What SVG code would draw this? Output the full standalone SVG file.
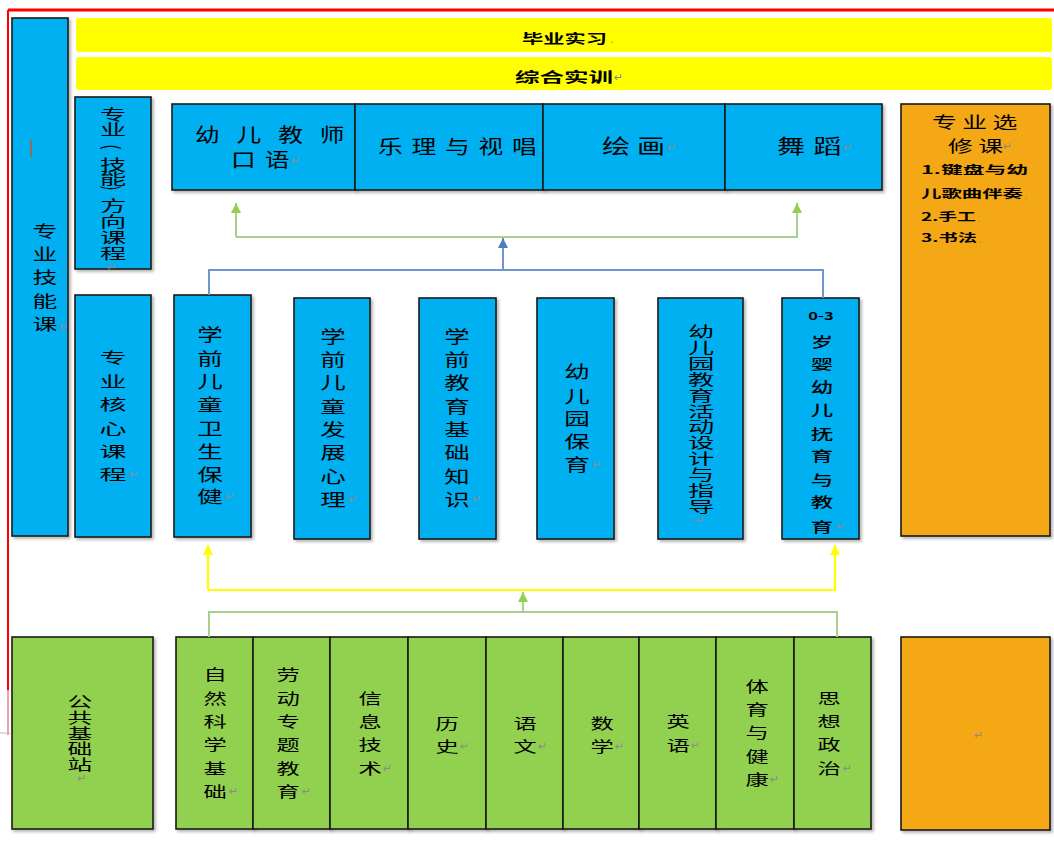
<svg xmlns="http://www.w3.org/2000/svg" width="1054" height="846" viewBox="0 0 1054 846">
<defs>
<filter id="sh" x="-10%" y="-10%" width="130%" height="130%"><feDropShadow dx="2" dy="2" stdDeviation="1.5" flood-color="#000" flood-opacity="0.3"/></filter>
<marker id="ag" viewBox="0 0 10 10" refX="10" refY="5" markerUnits="userSpaceOnUse" markerWidth="10" markerHeight="14" orient="auto"><path d="M0,0 L10,5 L0,10 z" fill="#92D050"/></marker>
<marker id="ab" viewBox="0 0 10 10" refX="10" refY="5" markerUnits="userSpaceOnUse" markerWidth="10" markerHeight="14" orient="auto"><path d="M0,0 L10,5 L0,10 z" fill="#4F7EC0"/></marker>
<marker id="ay" viewBox="0 0 10 10" refX="10" refY="5" markerUnits="userSpaceOnUse" markerWidth="10" markerHeight="14" orient="auto"><path d="M0,0 L10,5 L0,10 z" fill="#FFFF00"/></marker>
</defs>
<style>
.b{fill:#00B0F0;stroke:#1a1a1a;stroke-width:1.6;filter:url(#sh)}
.g{fill:#92D050;stroke:#1a1a1a;stroke-width:1.6;filter:url(#sh)}
.o{fill:#F5A815;stroke:#1a1a1a;stroke-width:1.6;filter:url(#sh)}
.y{fill:#FFFF00}
.t{font-family:"Noto Sans CJK SC","Noto Sans",sans-serif;fill:#000;dominant-baseline:central}
.v{text-anchor:middle}
.bd{font-weight:700}
.pm{font-family:"DejaVu Sans",sans-serif;fill:#8c8c8c;font-size:11px;dominant-baseline:central}
.cg{fill:none;stroke:#A9D18E;stroke-width:2}
.cb{fill:none;stroke:#7096CF;stroke-width:2}
.cy{fill:none;stroke:#FFFF00;stroke-width:2.2}
</style>
<rect width="1054" height="846" fill="#fff"/>
<g id="frame">
<path d="M8,10 H1054" stroke="#FF0000" stroke-width="3"/>
<path d="M8,10 V690" stroke="#FF0000" stroke-width="2"/>
<path d="M8,690 V735" stroke="#F4A0A0" stroke-width="2"/>
<path d="M0,733 H10" stroke="#bbb" stroke-width="1"/>
</g>

<g id="n-zyjnk">
<rect class="b" x="12" y="18" width="56" height="518"/>
<path d="M31,140 V157" stroke="#C0562A" stroke-width="1.5"/>
<text class="t v" font-size="16" transform="translate(45,0) scale(1.55,1)"><tspan x="0" y="230">专</tspan><tspan x="0" y="253">业</tspan><tspan x="0" y="276">技</tspan><tspan x="0" y="300">能</tspan><tspan x="0" y="323">课</tspan></text>
<text class="pm" x="59" y="326">↵</text>
</g>

<g id="n-bysx">
<rect class="y" x="76" y="18" width="976" height="34" rx="3"/>
<text class="t bd" font-size="13" x="522" y="37" textLength="85" lengthAdjust="spacingAndGlyphs">毕业实习</text>
<text class="pm" x="610" y="39" font-size="8">.</text>
</g>
<g id="n-zhsx">
<rect class="y" x="76" y="57" width="976" height="33" rx="3"/>
<text class="t bd" font-size="14" x="515" y="76" textLength="98" lengthAdjust="spacingAndGlyphs">综合实训</text>
<text class="pm" x="614" y="77">↵</text>
</g>

<g id="n-zyfx">
<rect class="b" x="75" y="97" width="76" height="172"/>
<text class="t v" font-size="15" transform="translate(113,0) scale(1.75,1)"><tspan x="0" y="113">专</tspan><tspan x="0" y="128">业</tspan><tspan x="0" y="163">技</tspan><tspan x="0" y="177">能</tspan><tspan x="0" y="204">方</tspan><tspan x="0" y="220">向</tspan><tspan x="0" y="236">课</tspan><tspan x="0" y="252">程</tspan></text>
<text class="t v" font-size="15" transform="translate(113,147) rotate(90) scale(1,1.4)" x="0" y="0">(</text>
<text class="t v" font-size="15" transform="translate(113,188) rotate(90) scale(1,1.4)" x="0" y="0">)</text>
<text class="pm" x="107" y="267">↵</text>
</g>

<g id="n-yejs">
<rect class="b" x="172" y="104" width="183" height="86"/>
<text class="t" font-size="19" transform="translate(195,0) scale(1.3,1)" x="0" y="133" textLength="115" lengthAdjust="spacing">幼儿教师</text>
<text class="t" font-size="19" transform="translate(231,0) scale(1.3,1)" x="0" y="158" textLength="45" lengthAdjust="spacing">口语</text>
<text class="pm" x="291" y="160">↵</text>
</g>
<g id="n-ll">
<rect class="b" x="355" y="104" width="188" height="86"/>
<text class="t" font-size="19" transform="translate(378,0) scale(1.3,1)" x="0" y="145" textLength="122" lengthAdjust="spacing">乐理与视唱</text>
</g>
<g id="n-hh">
<rect class="b" x="543" y="104" width="182" height="86"/>
<text class="t" font-size="20" transform="translate(602,0) scale(1.4,1)" x="0" y="145" textLength="45" lengthAdjust="spacing">绘画</text>
<text class="pm" x="667" y="147">↵</text>
</g>
<g id="n-wd">
<rect class="b" x="725" y="104" width="157" height="86"/>
<text class="t" font-size="20" transform="translate(777,0) scale(1.4,1)" x="0" y="145" textLength="46" lengthAdjust="spacing">舞蹈</text>
<text class="pm" x="843" y="147">↵</text>
</g>

<g id="n-zyxx">
<rect class="o" x="901" y="104" width="149" height="432"/>
<text class="t" font-size="16" transform="translate(932,0) scale(1.55,1)" x="0" y="121" textLength="55" lengthAdjust="spacing">专业选</text>
<text class="t" font-size="16" transform="translate(948,0) scale(1.55,1)" x="0" y="145" textLength="35.5" lengthAdjust="spacing">修课</text>
<text class="pm" x="1003" y="146">↵</text>
<text class="t bd" font-size="11" x="921" y="169" textLength="107" lengthAdjust="spacingAndGlyphs">1.键盘与幼</text>
<text class="t bd" font-size="11" x="921" y="193" textLength="102" lengthAdjust="spacingAndGlyphs">儿歌曲伴奏</text>
<text class="pm" x="1024" y="195" font-size="7">.</text>
<text class="t bd" font-size="11" x="921" y="216" textLength="55" lengthAdjust="spacingAndGlyphs">2.手工</text>
<text class="pm" x="977" y="218" font-size="7">.</text>
<text class="t bd" font-size="11" x="921" y="237" textLength="56" lengthAdjust="spacingAndGlyphs">3.书法</text>
<text class="pm" x="978" y="239" font-size="7">.</text>
</g>

<g id="n-zyhx">
<rect class="b" x="75" y="295" width="76" height="242"/>
<text class="t v" font-size="15" transform="translate(113,0) scale(1.8,1)"><tspan x="0" y="356">专</tspan><tspan x="0" y="380">业</tspan><tspan x="0" y="403">核</tspan><tspan x="0" y="427">心</tspan><tspan x="0" y="450">课</tspan><tspan x="0" y="473">程</tspan></text>
<text class="pm" x="129" y="474">↵</text>
</g>
<g id="n-wsbj">
<rect class="b" x="174" y="295" width="77" height="242"/>
<text class="t v" font-size="17" transform="translate(210,0) scale(1.5,1)"><tspan x="0" y="333">学</tspan><tspan x="0" y="357">前</tspan><tspan x="0" y="380">儿</tspan><tspan x="0" y="403">童</tspan><tspan x="0" y="427">卫</tspan><tspan x="0" y="450">生</tspan><tspan x="0" y="473">保</tspan><tspan x="0" y="495">健</tspan></text>
<text class="pm" x="225" y="496">↵</text>
</g>
<g id="n-fzxl">
<rect class="b" x="294" y="298" width="76" height="241"/>
<text class="t v" font-size="17" transform="translate(333,0) scale(1.5,1)"><tspan x="0" y="335">学</tspan><tspan x="0" y="358">前</tspan><tspan x="0" y="381">儿</tspan><tspan x="0" y="405">童</tspan><tspan x="0" y="428">发</tspan><tspan x="0" y="451">展</tspan><tspan x="0" y="475">心</tspan><tspan x="0" y="498">理</tspan></text>
<text class="pm" x="348" y="499">↵</text>
</g>
<g id="n-jyjc">
<rect class="b" x="419" y="298" width="77" height="241"/>
<text class="t v" font-size="17" transform="translate(457,0) scale(1.5,1)"><tspan x="0" y="335">学</tspan><tspan x="0" y="358">前</tspan><tspan x="0" y="381">教</tspan><tspan x="0" y="405">育</tspan><tspan x="0" y="428">基</tspan><tspan x="0" y="451">础</tspan><tspan x="0" y="475">知</tspan><tspan x="0" y="498">识</tspan></text>
<text class="pm" x="472" y="499">↵</text>
</g>
<g id="n-yeby">
<rect class="b" x="537" y="298" width="77" height="241"/>
<text class="t v" font-size="17" transform="translate(577,0) scale(1.5,1)"><tspan x="0" y="370">幼</tspan><tspan x="0" y="395">儿</tspan><tspan x="0" y="417">园</tspan><tspan x="0" y="440">保</tspan><tspan x="0" y="463">育</tspan></text>
<text class="pm" x="592" y="464">↵</text>
</g>
<g id="n-hdsj">
<rect class="b" x="658" y="298" width="85" height="241"/>
<text class="t v" font-size="15" transform="translate(701,0) scale(1.75,1)"><tspan x="0" y="330">幼</tspan><tspan x="0" y="346">儿</tspan><tspan x="0" y="362">园</tspan><tspan x="0" y="378">教</tspan><tspan x="0" y="394">育</tspan><tspan x="0" y="410">活</tspan><tspan x="0" y="425">动</tspan><tspan x="0" y="441">设</tspan><tspan x="0" y="457">计</tspan><tspan x="0" y="473">与</tspan><tspan x="0" y="489">指</tspan><tspan x="0" y="505">导</tspan></text>
<text class="pm v" x="700" y="520">↵</text>
</g>
<g id="n-0-3">
<rect class="b" x="782" y="298" width="77" height="241"/>
<text class="t v bd" font-size="11" transform="translate(821,0) scale(1.5,1)" x="0" y="315">0-3</text>
<text class="t v" font-size="14" font-weight="500" transform="translate(822,0) scale(1.6,1)"><tspan x="0" y="340">岁</tspan><tspan x="0" y="362">婴</tspan><tspan x="0" y="385">幼</tspan><tspan x="0" y="408">儿</tspan><tspan x="0" y="432">抚</tspan><tspan x="0" y="454">育</tspan><tspan x="0" y="478">与</tspan><tspan x="0" y="500">教</tspan><tspan x="0" y="525">育</tspan></text>
<text class="pm" x="836" y="526">↵</text>
</g>

<g id="n-ggjc">
<rect class="g" x="12" y="637" width="141" height="192"/>
<text class="t v" font-size="15" transform="translate(80,0) scale(1.65,1)"><tspan x="0" y="700">公</tspan><tspan x="0" y="716">共</tspan><tspan x="0" y="732">基</tspan><tspan x="0" y="747">础</tspan><tspan x="0" y="763">站</tspan></text>
<text class="pm v" x="82" y="778">↵</text>
</g>
<g id="n-zrkx">
<rect class="g" x="176" y="637" width="77" height="192"/>
<text class="t v" font-size="15" transform="translate(215,0) scale(1.55,1)"><tspan x="0" y="673">自</tspan><tspan x="0" y="697">然</tspan><tspan x="0" y="720">科</tspan><tspan x="0" y="743">学</tspan><tspan x="0" y="767">基</tspan><tspan x="0" y="790">础</tspan></text>
<text class="pm" x="229" y="791">↵</text>
</g>
<g id="n-ldzt">
<rect class="g" x="253" y="637" width="77" height="192"/>
<text class="t v" font-size="15" transform="translate(288,0) scale(1.55,1)"><tspan x="0" y="673">劳</tspan><tspan x="0" y="697">动</tspan><tspan x="0" y="720">专</tspan><tspan x="0" y="743">题</tspan><tspan x="0" y="767">教</tspan><tspan x="0" y="790">育</tspan></text>
<text class="pm" x="302" y="791">↵</text>
</g>
<g id="n-xxjs">
<rect class="g" x="330" y="637" width="78" height="192"/>
<text class="t v" font-size="15" transform="translate(370,0) scale(1.55,1)"><tspan x="0" y="697">信</tspan><tspan x="0" y="720">息</tspan><tspan x="0" y="743">技</tspan><tspan x="0" y="767">术</tspan></text>
<text class="pm" x="383" y="768">↵</text>
</g>
<g id="n-ls">
<rect class="g" x="408" y="637" width="78" height="192"/>
<text class="t v" font-size="15" transform="translate(447,0) scale(1.55,1)"><tspan x="0" y="722">历</tspan><tspan x="0" y="745">史</tspan></text>
<text class="pm" x="460" y="746">↵</text>
</g>
<g id="n-yw">
<rect class="g" x="486" y="637" width="77" height="192"/>
<text class="t v" font-size="15" transform="translate(525,0) scale(1.55,1)"><tspan x="0" y="722">语</tspan><tspan x="0" y="745">文</tspan></text>
<text class="pm" x="538" y="746">↵</text>
</g>
<g id="n-sx">
<rect class="g" x="563" y="637" width="76" height="192"/>
<text class="t v" font-size="15" transform="translate(602,0) scale(1.55,1)"><tspan x="0" y="722">数</tspan><tspan x="0" y="745">学</tspan></text>
<text class="pm" x="615" y="746">↵</text>
</g>
<g id="n-yy">
<rect class="g" x="639" y="637" width="77" height="192"/>
<text class="t v" font-size="15" transform="translate(678,0) scale(1.55,1)"><tspan x="0" y="720">英</tspan><tspan x="0" y="744">语</tspan></text>
<text class="pm" x="691" y="745">↵</text>
</g>
<g id="n-tyjk">
<rect class="g" x="716" y="637" width="78" height="192"/>
<text class="t v" font-size="15" transform="translate(757,0) scale(1.55,1)"><tspan x="0" y="685">体</tspan><tspan x="0" y="708">育</tspan><tspan x="0" y="731">与</tspan><tspan x="0" y="755">健</tspan><tspan x="0" y="778">康</tspan></text>
<text class="pm" x="770" y="779">↵</text>
</g>
<g id="n-sxzz">
<rect class="g" x="794" y="637" width="77" height="192"/>
<text class="t v" font-size="15" transform="translate(829,0) scale(1.55,1)"><tspan x="0" y="697">思</tspan><tspan x="0" y="720">想</tspan><tspan x="0" y="743">政</tspan><tspan x="0" y="767">治</tspan></text>
<text class="pm" x="843" y="768">↵</text>
</g>
<g id="n-orange2">
<rect class="o" x="901" y="637" width="149" height="193"/>
<text class="pm" x="974" y="735">↵</text>
</g>

<g id="connectors">
<path class="cg" d="M236,237 V203" marker-end="url(#ag)"/>
<path class="cg" d="M236,237 H797 V203" marker-end="url(#ag)"/>
<path class="cb" d="M209,295 V270 H823 V298"/>
<path class="cb" d="M503,270 V238" marker-end="url(#ab)"/>
<path class="cy" d="M208,590 V545" marker-end="url(#ay)"/>
<path class="cy" d="M208,590 H835 V545" marker-end="url(#ay)"/>
<path class="cg" d="M209,637 V612 H837 V637"/>
<path class="cg" d="M523,612 V592" marker-end="url(#ag)"/>
</g>
</svg>
